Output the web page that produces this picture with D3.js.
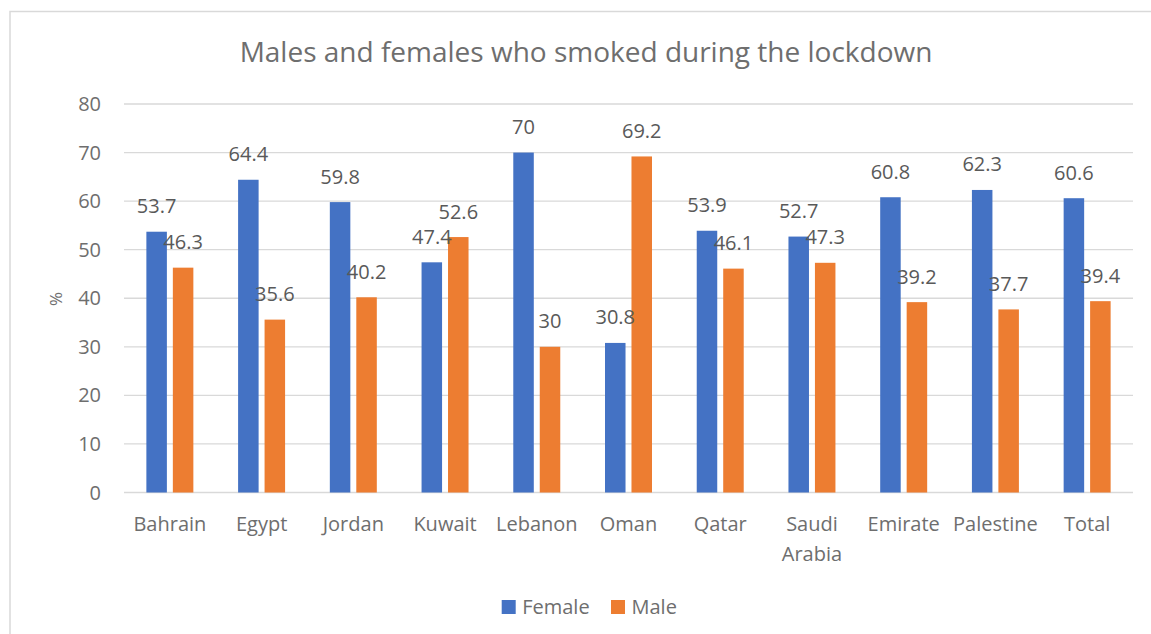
<!DOCTYPE html>
<html>
<head>
<meta charset="utf-8">
<script src="https://cdn.jsdelivr.net/npm/d3@7"></script>
<style>
  html, body { margin: 0; padding: 0; background: #fff; }
  svg { display: block; font-family: "Open Sans", "Noto Sans", sans-serif; }
</style>
</head>
<body>
<svg id="chart" width="1151" height="634"></svg>
<script>
const categories = ["Bahrain", "Egypt", "Jordan", "Kuwait", "Lebanon", "Oman", "Qatar", "Saudi Arabia", "Emirate", "Palestine", "Total"];
const female = [53.7, 64.4, 59.8, 47.4, 70, 30.8, 53.9, 52.7, 60.8, 62.3, 60.6];
const male = [46.3, 35.6, 40.2, 52.6, 30, 69.2, 46.1, 47.3, 39.2, 37.7, 39.4];
const seriesNames = ["Female", "Male"];
const seriesColors = ["#4472C4", "#ED7D31"];
const yTicks = [0, 10, 20, 30, 40, 50, 60, 70, 80];
const titleText = "Males and females who smoked during the lockdown";
const yAxisLabel = "%";

const svg = d3.select("#chart");
const W = 1151, H = 634;
const plot = { left: 124, right: 1133, top: 104, bottom: 492.5 };
const textColor = "#6E6E6E";
const labelColor = "#595959";
const gridColor = "#D9D9D9";

// chart border
svg.append("rect").attr("x", 10).attr("y", 11.5).attr("width", W).attr("height", H)
  .attr("fill", "#fff").attr("stroke", "#D9D9D9").attr("stroke-width", 1.5);

const x = d3.scaleBand().domain(categories).range([plot.left, plot.right]).padding(0);
const y = d3.scaleLinear().domain([0, 80]).range([plot.bottom, plot.top]);

const bw = x.bandwidth();
const barW = bw * 0.2236;
const gap = bw * 0.065;
const inner = d3.scaleBand().domain(seriesNames)
  .range([(bw - (2 * barW + gap)) / 2, (bw - (2 * barW + gap)) / 2 + 2 * barW + gap])
  .paddingInner(gap / (barW + gap)).paddingOuter(0);

// gridlines
svg.append("g").selectAll("line").data(yTicks).join("line")
  .attr("x1", plot.left).attr("x2", plot.right)
  .attr("y1", d => y(d)).attr("y2", d => y(d))
  .attr("stroke", gridColor).attr("stroke-width", 1.3);

// y axis tick labels
const yAxis = d3.axisLeft(y).tickValues(yTicks).tickSize(0).tickPadding(0);
const yg = svg.append("g").attr("transform", `translate(101,0)`).call(yAxis);
yg.select(".domain").remove();
yg.selectAll("text").attr("fill", textColor).attr("font-size", 20)
  .attr("font-family", '"Open Sans", sans-serif').attr("dy", "0.33em");

// y axis title
svg.append("text").attr("transform", `translate(62,299) rotate(-90)`)
  .attr("text-anchor", "middle").attr("fill", textColor).attr("font-size", 17)
  .text(yAxisLabel);

// bars
const data = categories.map((c, i) => ({ c, vals: [female[i], male[i]] }));
const groups = svg.append("g").selectAll("g").data(data).join("g")
  .attr("transform", d => `translate(${x(d.c)},0)`);
groups.selectAll("rect").data(d => d.vals.map((v, j) => ({ v, s: seriesNames[j], j })))
  .join("rect")
  .attr("x", d => inner(d.s)).attr("width", inner.bandwidth())
  .attr("y", d => y(d.v)).attr("height", d => y(0) - y(d.v))
  .attr("fill", d => seriesColors[d.j]);

// data labels (on top of all bars)
const lg = svg.append("g");
data.forEach(d => {
  d.vals.forEach((v, j) => {
    lg.append("text")
      .attr("x", x(d.c) + inner(seriesNames[j]) + inner.bandwidth() / 2)
      .attr("y", y(v) - 18.5)
      .attr("text-anchor", "middle").attr("fill", labelColor).attr("font-size", 20)
      .text(v);
  });
});

// x axis labels
const xg = svg.append("g");
categories.forEach(c => {
  const words = c.split(" ");
  const t = xg.append("text").attr("x", x(c) + bw / 2).attr("y", 531)
    .attr("text-anchor", "middle").attr("fill", textColor).attr("font-size", 20);
  words.forEach((w, k) => {
    t.append("tspan").attr("x", x(c) + bw / 2).attr("dy", k === 0 ? 0 : 30).text(w);
  });
});

// title
svg.append("text").attr("x", 586).attr("y", 62).attr("text-anchor", "middle")
  .attr("fill", textColor).attr("font-size", 28).text(titleText);

// legend
const legendX = [501.7, 611];
seriesNames.forEach((s, i) => {
  svg.append("rect").attr("x", legendX[i]).attr("y", 600).attr("width", 14).attr("height", 14)
    .attr("fill", seriesColors[i]);
  svg.append("text").attr("x", legendX[i] + 20.5).attr("y", 613.5)
    .attr("fill", textColor).attr("font-size", 20).text(s);
});
</script>
</body>
</html>
